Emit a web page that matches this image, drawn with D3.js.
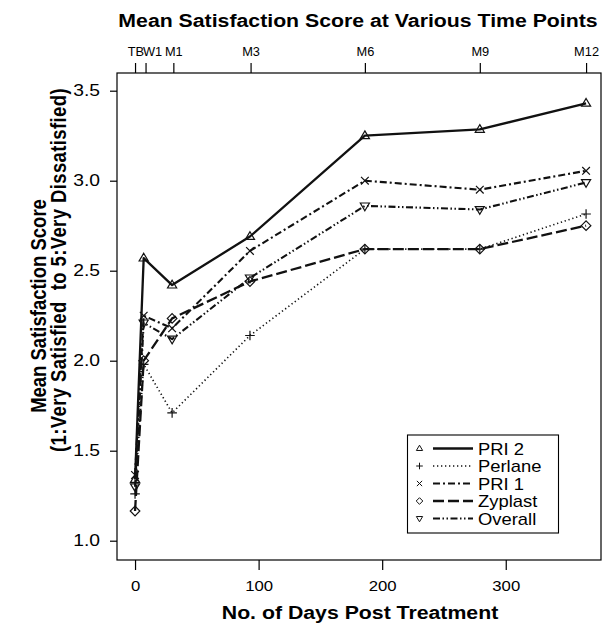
<!DOCTYPE html>
<html>
<head>
<meta charset="utf-8">
<script src="https://cdn.jsdelivr.net/npm/d3@7/dist/d3.min.js"></script>
<style>
  html, body { margin: 0; padding: 0; background: #fff; }
  svg { display: block; }
  text { font-family: "Liberation Sans", Arial, sans-serif; fill: #000; }
</style>
</head>
<body>
<svg id="chart" width="602" height="624"></svg>
<script>
// ---- data ----
const days = [0, 7, 30, 93, 186, 279, 365];
const pri2    = [1.34, 2.57, 2.42, 2.69, 3.25, 3.285, 3.43];
const perlane = [1.26, 1.98, 1.71, 2.14, 2.62, 2.62, 2.815];
const pri1    = [1.365, 2.25, 2.18, 2.61, 3.00, 2.95, 3.055];
const zyplast = [1.165, 2.00, 2.235, 2.44, 2.62, 2.62, 2.75];
const overall = [1.30, 2.21, 2.12, 2.46, 2.86, 2.84, 2.99];
const seriesNames = ["PRI 2", "Perlane", "PRI 1", "Zyplast", "Overall"];
const topTickDays = [0, 8.5, 31, 93.5, 186, 279, 365];
const topTickLabels = ["TB", "W1", "M1", "M3", "M6", "M9", "M12"];
const bottomTicks = [0, 100, 200, 300];
const yTicks = [1.0, 1.5, 2.0, 2.5, 3.0, 3.5];

const seriesValues = [pri2, perlane, pri1, zyplast, overall];
const styles = [
  { sym: "triUp",   dash: null,                width: 2.3 },
  { sym: "plus",    dash: "1.3,2.7",           width: 1.6 },
  { sym: "cross",   dash: "7,3,2,3",           width: 2.1 },
  { sym: "diamond", dash: "11,4",              width: 2.3 },
  { sym: "triDown", dash: "7,2.5,1.5,2.5,1.5,2.5", width: 2.1 }
];

const SX = 1.15; // horizontal glyph stretch seen in the reference

const svg = d3.select("#chart");
const L = 117, R = 601, T = 73, B = 560;

const x = d3.scaleLinear().domain([-14.6, 377]).range([L, L + (377 + 14.6) * 1.2357]);
const y = d3.scaleLinear().domain([1.0, 3.5]).range([540.7, 90.7]);

// frame
svg.append("rect").attr("x", L).attr("y", T).attr("width", R - L).attr("height", B - T)
  .attr("fill", "none").attr("stroke", "#000").attr("stroke-width", 1.2);

// bottom axis
const gB = svg.append("g").attr("transform", `translate(0,${B})`)
  .call(d3.axisBottom(x).tickValues(bottomTicks).tickSize(10).tickPadding(10).tickFormat(d3.format("d")));
gB.select(".domain").remove();
gB.selectAll("line").attr("stroke", "#000").attr("stroke-width", 1.2);
gB.selectAll("text").attr("font-size", 15.5).attr("font-family", "Liberation Sans, Arial, sans-serif")
  .attr("transform", `scale(1.08,1)`);

// top axis
const gT = svg.append("g").attr("transform", `translate(0,${T})`)
  .call(d3.axisTop(x).tickValues(topTickDays).tickSize(10).tickPadding(7)
    .tickFormat((d, i) => topTickLabels[i]));
gT.select(".domain").remove();
gT.selectAll("line").attr("stroke", "#000").attr("stroke-width", 1.2);
gT.selectAll("text").attr("font-size", 12.8).attr("font-family", "Liberation Sans, Arial, sans-serif");
gT.selectAll("text").filter((d, i) => i === 0).attr("text-anchor", "end").attr("dx", 8.5);
gT.selectAll("text").filter((d, i) => i === 1).attr("text-anchor", "start").attr("dx", -3);

// left axis
const gL = svg.append("g").attr("transform", `translate(${L},0)`)
  .call(d3.axisLeft(y).tickValues(yTicks).tickSize(7).tickPadding(4).tickFormat(d3.format(".1f")));
gL.select(".domain").remove();
gL.selectAll("line").attr("stroke", "#000").attr("stroke-width", 1.2);
gL.selectAll("text").attr("font-size", 16.5).attr("font-family", "Liberation Sans, Arial, sans-serif")
  .attr("x", 0).attr("transform", `translate(-17,0) scale(1.17,1)`);

// titles
svg.append("text").attr("transform", `translate(358,27) scale(${SX},1)`).attr("text-anchor", "middle")
  .attr("font-size", 18.5).attr("font-weight", "bold").text("Mean Satisfaction Score at Various Time Points");
svg.append("text").attr("transform", `translate(360,619) scale(${SX},1)`).attr("text-anchor", "middle")
  .attr("font-size", 18.5).attr("font-weight", "bold").text("No. of Days Post Treatment");
svg.append("text").attr("transform", `translate(46,306) scale(1.2,1) rotate(-90)`).attr("text-anchor", "middle")
  .attr("font-size", 18.5).attr("font-weight", "bold").text("Mean Satisfaction Score");
svg.append("text").attr("transform", `translate(66,270) scale(1.2,1) rotate(-90)`).attr("text-anchor", "middle")
  .attr("font-size", 18.5).attr("font-weight", "bold").attr("letter-spacing", 0.4)
  .style("white-space", "pre").text("(1:Very Satisfied  to 5:Very Dissatisfied)");

// symbols
function symPath(type, cx, cy, s) {
  switch (type) {
    case "triUp": return `M${cx},${cy - s}L${cx + s * 0.95},${cy + s * 0.6}L${cx - s * 0.95},${cy + s * 0.6}Z`;
    case "triDown": return `M${cx},${cy + s}L${cx + s * 0.95},${cy - s * 0.6}L${cx - s * 0.95},${cy - s * 0.6}Z`;
    case "plus": return `M${cx - s},${cy}L${cx + s},${cy}M${cx},${cy - s}L${cx},${cy + s}`;
    case "cross": { const k = s * 0.8; return `M${cx - k},${cy - k}L${cx + k},${cy + k}M${cx - k},${cy + k}L${cx + k},${cy - k}`; }
    case "diamond": return `M${cx},${cy - s}L${cx + s},${cy}L${cx},${cy + s}L${cx - s},${cy}Z`;
  }
}

const line = d3.line().x((d, i) => x(days[i])).y(d => y(d));
const plot = svg.append("g");
seriesValues.forEach((vals, si) => {
  const st = styles[si];
  plot.append("path").attr("d", line(vals)).attr("fill", "none").attr("stroke", "#111")
    .attr("stroke-width", st.width).attr("stroke-dasharray", st.dash).attr("stroke-linejoin", "round");
});
seriesValues.forEach((vals, si) => {
  const st = styles[si];
  plot.selectAll(null).data(vals).enter().append("path")
    .attr("d", (d, i) => symPath(st.sym, x(days[i]), y(d), 4.8))
    .attr("fill", "none").attr("stroke", "#111").attr("stroke-width", 1.2);
});

// legend
const lg = svg.append("g");
lg.append("rect").attr("x", 407.5).attr("y", 435).attr("width", 151).attr("height", 98)
  .attr("fill", "#fff").attr("stroke", "#000").attr("stroke-width", 1.1);
seriesNames.forEach((name, i) => {
  const cy = 448.5 + i * 17.5;
  const st = styles[i];
  lg.append("path").attr("d", symPath(st.sym, 419.5, cy, 3.3)).attr("fill", "none")
    .attr("stroke", "#111").attr("stroke-width", 1);
  lg.append("line").attr("x1", 433).attr("x2", 473).attr("y1", cy).attr("y2", cy)
    .attr("stroke", "#111").attr("stroke-width", st.width).attr("stroke-dasharray", st.dash);
  lg.append("text").attr("transform", `translate(478,${cy + 6}) scale(${SX},1)`)
    .attr("font-size", 16).text(name);
});
</script>
</body>
</html>
